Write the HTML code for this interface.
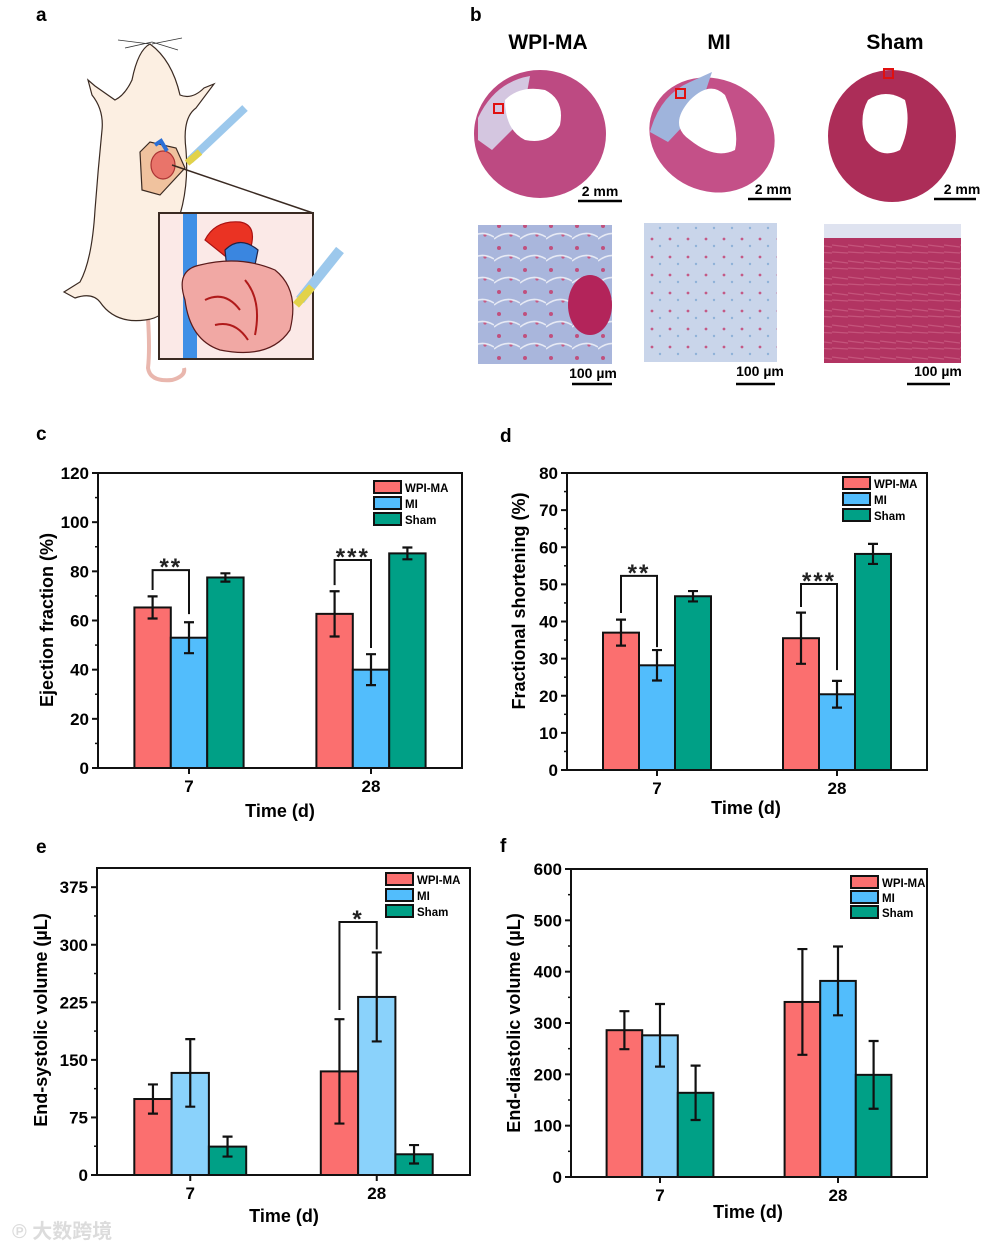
<!DOCTYPE html>
<html><head><meta charset="utf-8"><style>
html,body{margin:0;padding:0;background:#fff;}
svg{display:block;font-family:"Liberation Sans","Noto Sans CJK SC",sans-serif;}
</style></head><body>
<svg id="fig" width="1000" height="1248" viewBox="0 0 1000 1248" xmlns="http://www.w3.org/2000/svg">
<defs>
<pattern id="microA" width="26" height="22" patternUnits="userSpaceOnUse"><rect width="26" height="22" fill="#a9b6dc"/><circle cx="5" cy="6" r="2" fill="#c0507e"/><circle cx="17" cy="15" r="1.6" fill="#c85a84"/><path d="M0 19 Q13 9 26 17" stroke="#e6e9f4" stroke-width="1.6" fill="none"/></pattern>
<pattern id="microB" width="18" height="18" patternUnits="userSpaceOnUse"><rect width="18" height="18" fill="#c9d5ea"/><circle cx="4" cy="5" r="1.4" fill="#c45a86"/><circle cx="12" cy="12" r="1.2" fill="#8fb2d8"/></pattern>
<pattern id="microC" width="16" height="16" patternUnits="userSpaceOnUse"><rect width="16" height="16" fill="#b23462"/><path d="M0 5 L16 7 M0 12 L16 13" stroke="#c4547b" stroke-width="1.3"/></pattern>
</defs>

<g font-weight="bold" font-size="19" fill="#000">
<text x="36" y="21">a</text><text x="470" y="21">b</text>
<text x="36" y="440">c</text><text x="500" y="442">d</text>
<text x="36" y="853">e</text><text x="500" y="852">f</text>
</g>

<!-- Panel a -->
<g stroke="#3a2a22" stroke-width="1.2">
<path d="M148 318 Q150 350 148 368 Q150 382 172 380 Q186 376 184 368" fill="none" stroke="#e9b7ae" stroke-width="4"/>
<path d="M150 44 Q138 50 132 80 Q125 95 115 100 L95 86 L88 80 L92 95 Q104 110 102 130 Q98 170 95 210 Q92 260 80 282 L64 292 L75 298 Q92 292 100 302 Q115 324 145 320 Q165 318 170 300 L170 240 Q190 200 186 150 Q182 118 196 108 L214 84 L204 88 Q192 100 180 95 Q172 60 150 44 Z" fill="#fcefe2"/>
<path d="M140 152 L150 142 L176 148 L185 168 L160 195 L142 190 Z" fill="#f0c29e"/>
<ellipse cx="163" cy="165" rx="12" ry="14" fill="#e9746a" stroke="#a33"/>
<path d="M155 145 l6 -4 l6 10" stroke="#2a6fd6" stroke-width="4" fill="none"/>
<path d="M190 160 L245 108" stroke="#9cc8ec" stroke-width="8"/>
<path d="M187 163 L200 152" stroke="#e2d24a" stroke-width="7"/>
<path d="M152 42 L125 48 M152 42 L178 50 M150 44 L118 40 M152 44 L182 38" stroke="#333" stroke-width="0.8"/>
<path d="M172 165 L313 213" stroke="#3a2a22" stroke-width="1.5"/>
<rect x="159" y="213" width="154" height="146" fill="#fbe9e7" stroke="#3a2a22" stroke-width="2"/>
<rect x="183" y="214" width="14" height="144" fill="#3f8fe6" stroke="none"/>
<path d="M205 240 Q215 220 240 222 Q258 225 250 250 L230 260 Z" fill="#ea3323" stroke="#a11"/>
<path d="M225 250 Q240 235 258 250 L250 290 L228 280 Z" fill="#3a86e0" stroke="#224"/>
<path d="M185 300 Q175 270 200 265 Q240 255 275 270 Q300 290 290 330 Q270 360 220 350 Q190 340 185 300 Z" fill="#f1a8a4" stroke="#5a1a1a"/>
<path d="M205 300 Q225 290 240 310 M245 280 Q262 300 255 335 M215 325 Q235 320 248 340" stroke="#b01a1a" stroke-width="2" fill="none"/>
<path d="M300 300 L340 250" stroke="#9cc8ec" stroke-width="10"/>
<path d="M296 305 L312 287" stroke="#e2d24a" stroke-width="8"/>
</g>

<!-- Panel b -->
<g>
<g font-weight="bold" font-size="21" text-anchor="middle" fill="#000">
<text x="548" y="49">WPI-MA</text>
<text x="719" y="49">MI</text>
<text x="895" y="49">Sham</text>
</g>
<g>
<ellipse cx="540" cy="134" rx="66" ry="64" fill="#bd4a82"/>
<path d="M478 118 Q495 82 530 76 L522 120 L492 150 L478 140 Z" fill="#d4c6e0"/>
<path d="M505 100 Q520 85 545 90 Q565 100 560 125 Q550 145 525 140 Q505 130 505 100 Z" fill="#fff"/>
</g>
<g>
<ellipse cx="712" cy="135" rx="64" ry="56" transform="rotate(25 712 135)" fill="#c45088"/>
<path d="M650 132 Q660 95 690 82 L712 72 L700 108 L668 142 Z" fill="#9fb4dc"/>
<path d="M690 100 Q710 80 725 95 Q740 130 735 150 Q715 160 690 140 Q668 125 690 100 Z" fill="#fff"/>
</g>
<g>
<ellipse cx="892" cy="136" rx="64" ry="66" fill="#ac2d58"/>
<path d="M868 100 Q885 88 905 100 Q912 125 900 150 Q880 160 866 140 Q858 118 868 100 Z" fill="#fff"/>
</g>
<g fill="none" stroke="#e01010" stroke-width="2">
<rect x="494" y="104" width="9" height="9"/><rect x="676" y="89" width="9" height="9"/><rect x="884" y="69" width="9" height="9"/>
</g>
<rect x="478" y="225" width="134" height="139" fill="url(#microA)"/>
<ellipse cx="590" cy="305" rx="22" ry="30" fill="#b3245a"/>
<rect x="644" y="223" width="133" height="139" fill="url(#microB)"/>
<rect x="824" y="236" width="137" height="127" fill="url(#microC)"/>
<rect x="824" y="224" width="137" height="14" fill="#dfe3f0"/>
<g font-weight="bold" font-size="14" text-anchor="middle" fill="#000">
<text x="600" y="196">2 mm</text><text x="773" y="194">2 mm</text><text x="962" y="194">2 mm</text>
<text x="593" y="378">100 µm</text><text x="760" y="376">100 µm</text><text x="938" y="376">100 µm</text>
</g>
<g stroke="#000" stroke-width="2.5">
<line x1="578" y1="201" x2="622" y2="201"/><line x1="748" y1="199" x2="791" y2="199"/><line x1="934" y1="199" x2="976" y2="199"/>
<line x1="572" y1="384" x2="612" y2="384"/><line x1="736" y1="384" x2="775" y2="384"/><line x1="907" y1="384" x2="950" y2="384"/>
</g>
</g>

<g id="charts"></g>
<text x="12" y="1238" font-size="20" fill="#dcdcdc" font-weight="bold">℗ 大数跨境</text>
</svg>
<script>
const categories = ["7", "28"];
const seriesNames = ["WPI-MA", "MI", "Sham"];
// c: ejection fraction
const efWPI = [65.3, 62.7];   const efWPIErr = [4.5, 9.2];
const efMI = [53.0, 40.0];    const efMIErr = [6.3, 6.3];
const efSham = [77.5, 87.3];  const efShamErr = [1.7, 2.4];
const efTicks = [0, 20, 40, 60, 80, 100, 120];
const efBracket = [[80.5, 72.4, 62.6], [84.6, 74.4, 48.8]];
const efStars = ["**", "***"];
// d: fractional shortening
const fsWPI = [37.0, 35.5];   const fsWPIErr = [3.5, 6.9];
const fsMI = [28.2, 20.4];    const fsMIErr = [4.1, 3.6];
const fsSham = [46.8, 58.2];  const fsShamErr = [1.4, 2.7];
const fsTicks = [0, 10, 20, 30, 40, 50, 60, 70, 80];
const fsBracket = [[52.3, 42.3, 33.1], [50.1, 43.9, 26.9]];
const fsStars = ["**", "***"];
// e: end-systolic volume
const esvWPI = [99, 135];     const esvWPIErr = [19, 68];
const esvMI = [133, 232];     const esvMIErr = [44, 58];
const esvSham = [37, 27];     const esvShamErr = [13, 12];
const esvTicks = [0, 75, 150, 225, 300, 375];
const esvBracket = [null, [329.6, 215, 294]];
const esvStars = ["", "*"];
// f: end-diastolic volume
const edvWPI = [286, 341];    const edvWPIErr = [37, 103];
const edvMI = [276, 382];     const edvMIErr = [61, 67];
const edvSham = [164, 199];   const edvShamErr = [53, 66];
const edvTicks = [0, 100, 200, 300, 400, 500, 600];

const NS = "http://www.w3.org/2000/svg";
const root = document.getElementById("charts");
function mk(tag, attrs, parent, txt) {
  const e = document.createElementNS(NS, tag);
  for (const k in attrs) e.setAttribute(k, attrs[k]);
  if (txt !== undefined) e.textContent = txt;
  parent.appendChild(e);
  return e;
}
const COLORS = ["#fb6f6f", "#52bdfc", "#00a086"];

function chart(cfg) {
  const g = mk("g", {}, root);
  
  
  const x0 = cfg.box[0], x1 = cfg.box[1], yt = cfg.box[2], yb = cfg.box[3];
  const W = x1 - x0;
  const ys = v => yb - (v - cfg.min) / (cfg.max - cfg.min) * (yb - yt);
  const xc = i => x0 + (i + 0.5) / categories.length * W;
  const bw = W * 0.1;
  const series = [cfg.s[0], cfg.s[1], cfg.s[2]];
  const errs = [cfg.e[0], cfg.e[1], cfg.e[2]];
  categories.forEach((c, i) => {
    series.forEach((arr, k) => {
      const bx = xc(i) + (k - 1) * bw - bw / 2;
      const v = arr[i];
      let col = COLORS[k];
      if (cfg.lightMI && k === 1 && cfg.lightMI[i]) col = "#8ad2fb";
      const r = mk("rect", {x: bx, y: ys(v), width: bw, height: ys(0) - ys(v), fill: col, stroke: "#111", "stroke-width": 2}, g);
      
      
      const cx = bx + bw / 2, e = errs[k][i];
      const eb = mk("path", {d: `M${cx} ${ys(v - e)} V${ys(v + e)} M${cx - 5} ${ys(v - e)} H${cx + 5} M${cx - 5} ${ys(v + e)} H${cx + 5}`, stroke: "#111", "stroke-width": 2.2, fill: "none"}, g);
      
      
    });
    if (cfg.br && cfg.br[i]) {
      const b = cfg.br[i];
      const lx = xc(i) - bw, rx = xc(i);
      const p = mk("path", {d: `M${lx} ${ys(b[1])} V${ys(b[0])} H${rx} V${ys(b[2])}`, stroke: "#111", "stroke-width": 2, fill: "none"}, g);
      
      
      const st = mk("text", {x: (lx + rx) / 2, y: ys(b[0]) + 5, "text-anchor": "middle", "font-size": 24, "font-weight": "bold", "letter-spacing": 2, fill: "#222"}, g, cfg.stars[i]);
      
      
    }
  });
  const ax = mk("rect", {x: x0, y: yt, width: W, height: yb - yt, fill: "none", stroke: "#111", "stroke-width": 2}, g);
  
  
  cfg.ticks.forEach((t, j) => {
    mk("line", {x1: x0 - 6, x2: x0, y1: ys(t), y2: ys(t), stroke: "#111", "stroke-width": 2}, g);
    if (j < cfg.ticks.length - 1) {
      const m = (t + cfg.ticks[j + 1]) / 2;
      mk("line", {x1: x0 - 3, x2: x0, y1: ys(m), y2: ys(m), stroke: "#111", "stroke-width": 1.5}, g);
    }
    const tl = mk("text", {x: x0 - 9, y: ys(t) + 6, "text-anchor": "end", "font-size": 17, "font-weight": "bold"}, g, t);
    
    
  });
  categories.forEach((c, i) => {
    mk("line", {x1: xc(i), x2: xc(i), y1: yb, y2: yb + 6, stroke: "#111", "stroke-width": 2}, g);
    const xl = mk("text", {x: xc(i), y: yb + 24, "text-anchor": "middle", "font-size": 17, "font-weight": "bold"}, g, c);
    
    
  });
  const xt = mk("text", {x: cfg.xt[0], y: cfg.xt[1], "text-anchor": "middle", "font-size": 18, "font-weight": "bold"}, g, "Time (d)");
  
  
  const yti = mk("text", {x: 0, y: 0, "text-anchor": "middle", "font-size": 18, "font-weight": "bold", transform: `translate(${cfg.yt[0]},${cfg.yt[1]}) rotate(-90)`}, g, cfg.ylabel);
  
  
  seriesNames.forEach((n, k) => {
    const ly = cfg.leg[1] + k * cfg.leg[2];
    const lr = mk("rect", {x: cfg.leg[0], y: ly, width: 27, height: 12, fill: COLORS[k], stroke: "#111", "stroke-width": 2}, g);
    
    
    const lt = mk("text", {x: cfg.leg[0] + 31, y: ly + 11, "font-size": 11.5, "font-weight": "bold"}, g, n);
    
    
  });
}

chart({name: "chart-ejection-fraction", box: [98, 462, 473, 768], min: 0, max: 120, ticks: efTicks,
  s: [efWPI, efMI, efSham], e: [efWPIErr, efMIErr, efShamErr], br: efBracket, stars: efStars,
  xt: [280, 817], yt: [53, 620], ylabel: "Ejection fraction (%)", leg: [374, 481, 16]});
chart({name: "chart-fractional-shortening", box: [567, 927, 473, 770], min: 0, max: 80, ticks: fsTicks,
  s: [fsWPI, fsMI, fsSham], e: [fsWPIErr, fsMIErr, fsShamErr], br: fsBracket, stars: fsStars,
  xt: [746, 814], yt: [525, 601], ylabel: "Fractional shortening (%)", leg: [843, 477, 16]});
chart({name: "chart-end-systolic-volume", box: [97, 470, 868, 1175], min: 0, max: 400, ticks: esvTicks,
  s: [esvWPI, esvMI, esvSham], e: [esvWPIErr, esvMIErr, esvShamErr], br: esvBracket, stars: esvStars, lightMI: [true, true],
  xt: [284, 1222], yt: [47, 1020], ylabel: "End-systolic volume (µL)", leg: [386, 873, 16]});
chart({name: "chart-end-diastolic-volume", box: [571, 927, 869, 1177], min: 0, max: 600, ticks: edvTicks,
  s: [edvWPI, edvMI, edvSham], e: [edvWPIErr, edvMIErr, edvShamErr], lightMI: [true, false],
  xt: [748, 1218], yt: [520, 1023], ylabel: "End-diastolic volume (µL)", leg: [851, 876, 15]});
</script>
</body></html>
